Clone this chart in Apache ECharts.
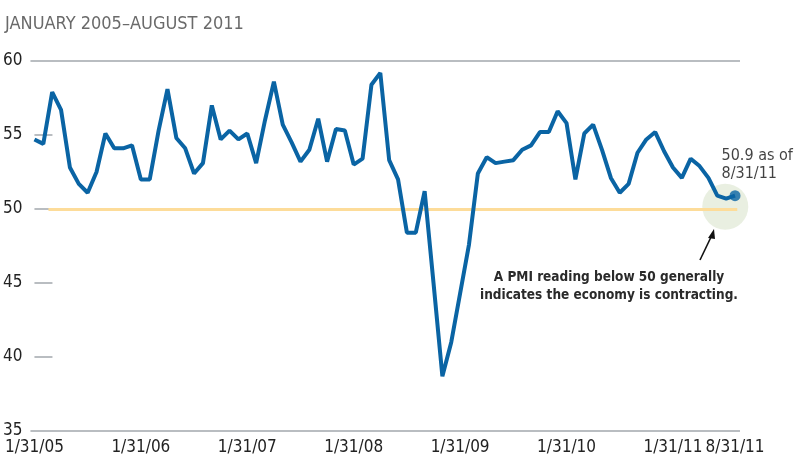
<!DOCTYPE html>
<html>
<head>
<meta charset="utf-8">
<script src="https://cdn.jsdelivr.net/npm/echarts@6/dist/echarts.min.js"></script>
<style>
  html, body { margin: 0; padding: 0; background: #fff; }
  #pmi_chart { width: 795px; height: 465px; }
</style>
</head>
<body>
<div id="pmi_chart"></div>
<script>
// monthly PMI readings, Jan 2005 .. Aug 2011
var pmi_2005 = [54.7, 54.4, 57.9, 56.7, 52.8, 51.7, 51.1, 52.5, 55.1, 54.1, 54.1, 54.3];
var pmi_2006 = [52.0, 52.0, 55.3, 58.1, 54.8, 54.1, 52.4, 53.1, 57.0, 54.7, 55.3, 54.7];
var pmi_2007 = [55.1, 53.1, 56.0, 58.6, 55.7, 54.5, 53.2, 54.0, 56.1, 53.2, 55.4, 55.3];
var pmi_2008 = [53.0, 53.4, 58.4, 59.2, 53.3, 52.0, 48.4, 48.4, 51.2, 45.0, 38.7, 41.0];
var pmi_2009 = [44.3, 47.6, 52.4, 53.5, 53.1, 53.2, 53.3, 54.0, 54.3, 55.2, 55.2, 56.6];
var pmi_2010 = [55.8, 52.0, 55.1, 55.7, 54.0, 52.1, 51.1, 51.7, 53.8, 54.7, 55.2, 53.9];
var pmi_2011 = [52.8, 52.1, 53.4, 52.9, 52.1, 50.9, 50.7, 50.9];

// x tick positions (month index) and their labels
var tick_months = [0, 12, 24, 36, 48, 60, 72, 79];
var tick_labels = ['1/31/05', '1/31/06', '1/31/07', '1/31/08', '1/31/09', '1/31/10', '1/31/11', '8/31/11'];

var threshold = 50;
var last_label = '50.9 as of\n8/31/11';

function display_pmi(){

    var pmi = [].concat(pmi_2005, pmi_2006, pmi_2007, pmi_2008, pmi_2009, pmi_2010, pmi_2011);
    var line_data = pmi.map(function(v, i){ return [i, v]; });
    var last = line_data[line_data.length - 1];

    var font = '"Liberation Sans Narrow", "DejaVu Sans Condensed", "Noto Sans", sans-serif';

    var pmi_chart = echarts.init(document.getElementById('pmi_chart'));
    var pmi_option = {
        animation: false,
        title: {
            text: 'JANUARY 2005\u2013AUGUST 2011',
            left: 0,
            top: 10,
            textStyle: {
                fontFamily: font,
                fontSize: 18,
                fontWeight: 'normal',
                color: '#6a6a6a'
            }
        },
        grid: {
            left: 30,
            right: 55,
            top: 61,
            bottom: 34
        },
        xAxis: {
            type: 'value',
            min: -0.45,
            max: 79.56,
            axisLine: { show: false },
            axisTick: { show: false },
            splitLine: { show: false },
            axisLabel: {
                customValues: tick_months,
                margin: 8,
                fontFamily: font,
                fontSize: 17,
                color: '#222',
                formatter: function(v){
                    return tick_labels[tick_months.indexOf(v)];
                }
            }
        },
        yAxis: {
            type: 'value',
            min: 35,
            max: 60,
            interval: 5,
            axisLine: { show: false },
            axisTick: {
                show: true,
                inside: true,
                length: 18,
                lineStyle: { color: '#b9bdc1', width: 2 }
            },
            splitLine: {
                show: true,
                lineStyle: {
                    color: ['#b9bdc1', 'transparent', 'transparent', 'transparent', 'transparent', '#b9bdc1'],
                    width: 2
                }
            },
            axisLabel: {
                margin: 8,
                fontFamily: font,
                fontSize: 17,
                color: '#222'
            }
        },
        series: [
            {
                // shaded circle round the latest reading
                type: 'scatter',
                data: [[77.9, 50.16]],
                symbolSize: 46,
                itemStyle: { color: '#e4ebda' },
                silent: true,
                z: 1
            },
            {
                type: 'line',
                data: line_data,
                showSymbol: false,
                lineStyle: { color: '#0a64a4', width: 4 },
                z: 3,
                markLine: {
                    silent: true,
                    symbol: 'none',
                    label: { show: false },
                    lineStyle: { color: '#fddc99', width: 3, type: 'solid' },
                    data: [[{ coord: [1.58, threshold] }, { coord: [79.25, threshold] }]],
                    z: 2
                }
            },
            {
                type: 'scatter',
                data: [last],
                symbolSize: 11,
                itemStyle: { color: '#0a64a4' },
                z: 4,
                label: {
                    show: true,
                    position: [-8, -43],
                    formatter: last_label,
                    align: 'left',
                    fontFamily: font,
                    fontSize: 16,
                    lineHeight: 18,
                    color: '#111'
                }
            }
        ],
        graphic: [
            {
                type: 'line',
                shape: { x1: 700, y1: 260, x2: 712, y2: 235 },
                style: { stroke: '#111', lineWidth: 1.6 }
            },
            {
                type: 'polygon',
                shape: { points: [[714, 229], [708, 238], [715, 239]] },
                style: { fill: '#111' }
            },
            {
                type: 'text',
                x: 609,
                y: 268,
                style: {
                    text: 'A PMI reading below 50 generally\nindicates the economy is contracting.',
                    textAlign: 'center',
                    font: 'bold 13.5px ' + font,
                    lineHeight: 18,
                    fill: '#2a2a2a'
                }
            }
        ]
    };
    if(pmi_chart!=0){
        pmi_chart.clear();
        pmi_chart.setOption(pmi_option);
    }else{
        pmi_chart.setOption(pmi_option);
    }
}

display_pmi();
</script>
</body>
</html>
